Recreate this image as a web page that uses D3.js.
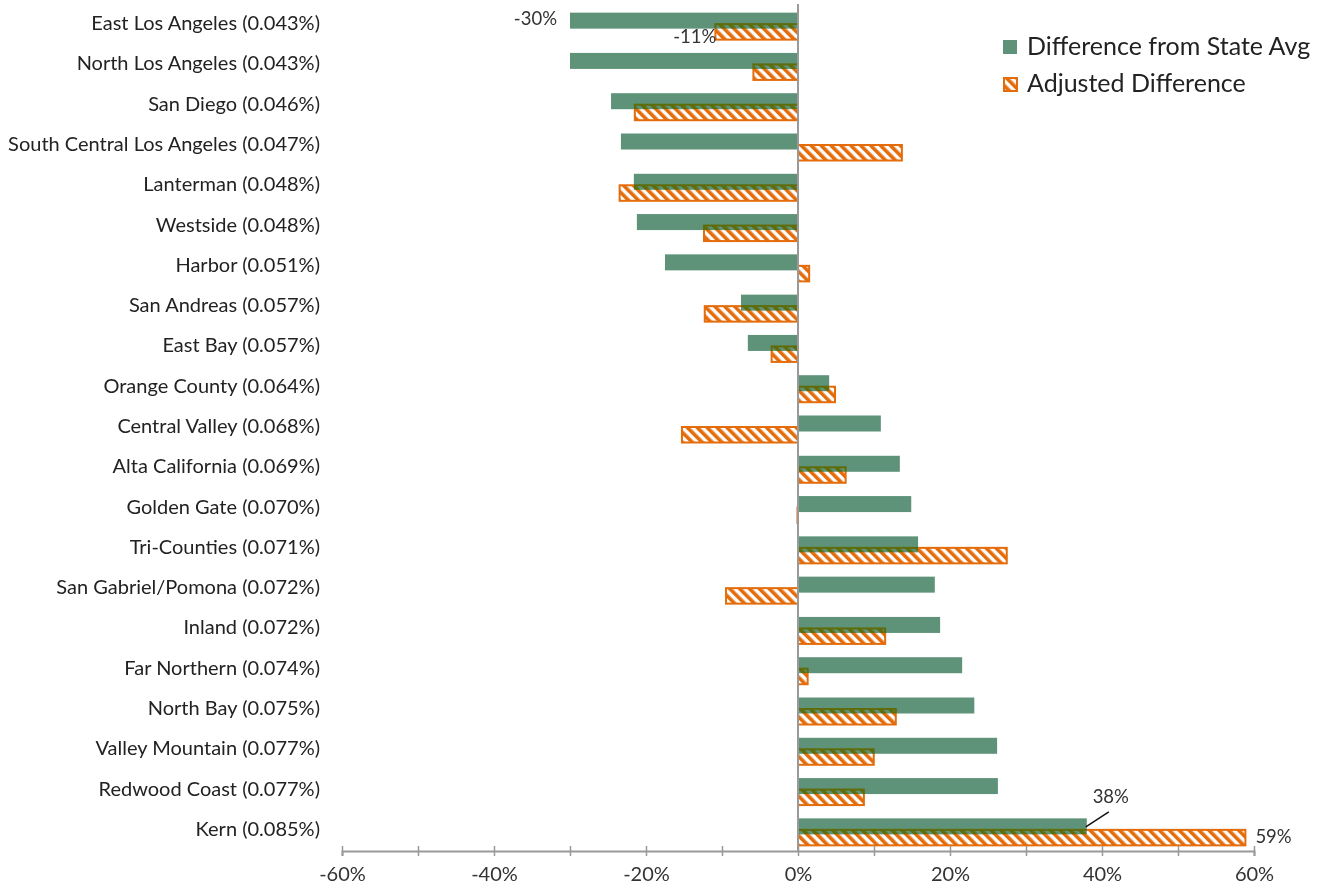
<!DOCTYPE html>
<html>
<head>
<meta charset="utf-8">
<script src="https://cdn.jsdelivr.net/npm/d3@7"></script>
<style>
  html, body { margin: 0; padding: 0; background: #fff; }
  svg { display: block; font-family: Lato, "Open Sans", sans-serif; }
</style>
</head>
<body>
<svg id="chart" width="1330" height="890"></svg>
<script>
// Regional centers with their rate in parentheses
const categories = [
  "East Los Angeles (0.043%)",
  "North Los Angeles (0.043%)",
  "San Diego (0.046%)",
  "South Central Los Angeles (0.047%)",
  "Lanterman (0.048%)",
  "Westside (0.048%)",
  "Harbor (0.051%)",
  "San Andreas (0.057%)",
  "East Bay (0.057%)",
  "Orange County (0.064%)",
  "Central Valley (0.068%)",
  "Alta California (0.069%)",
  "Golden Gate (0.070%)",
  "Tri-Counties (0.071%)",
  "San Gabriel/Pomona (0.072%)",
  "Inland (0.072%)",
  "Far Northern (0.074%)",
  "North Bay (0.075%)",
  "Valley Mountain (0.077%)",
  "Redwood Coast (0.077%)",
  "Kern (0.085%)"
];

// Percent difference from the state average
const diffFromState = [
  -30, -30, -24.6, -23.3, -21.6, -21.2, -17.5, -7.5, -6.6, 4.1, 10.9,
  13.4, 14.9, 15.8, 18.0, 18.7, 21.6, 23.2, 26.2, 26.3, 38
];

// Adjusted percent difference
const adjustedDiff = [
  -11, -6.0, -21.6, 13.8, -23.6, -12.5, 1.6, -12.4, -3.6, 5.0, -15.4,
  6.4, -0.2, 27.6, -9.6, 11.6, 1.4, 13.0, 10.1, 8.8, 59
];

const seriesNames = ["Difference from State Avg", "Adjusted Difference"];
const xTicks = [-60, -50, -40, -30, -20, -10, 0, 10, 20, 30, 40, 50, 60];

// Value labels shown on selected bars
const valueLabels = [
  { cat: 0, series: 0, text: "-30%" },
  { cat: 0, series: 1, text: "-11%" },
  { cat: 20, series: 0, text: "38%" },
  { cat: 20, series: 1, text: "59%" }
];

const green = "#5E9379";
const orange = "#E46C0A";

const svg = d3.select("#chart");

const x = d3.scaleLinear().domain([-60, 60]).range([342, 1254]);
const y = d3.scaleBand().domain(categories).range([4, 850]);

// Diagonal hatch for the adjusted series
const defs = svg.append("defs");
defs.append("pattern")
  .attr("id", "hatch")
  .attr("patternUnits", "userSpaceOnUse")
  .attr("width", 7)
  .attr("height", 7)
  .attr("patternTransform", "rotate(-45)")
  .append("rect")
  .attr("x", 0).attr("y", 0)
  .attr("width", 3.6).attr("height", 7)
  .attr("fill", orange);

// Category labels
svg.append("g")
  .selectAll("text")
  .data(categories)
  .join("text")
  .attr("x", 320)
  .attr("y", d => y(d) + y.bandwidth() / 2 + 1)
  .attr("text-anchor", "end")
  .attr("dominant-baseline", "middle")
  .attr("font-size", 20)
  .attr("fill", "#222")
  .text(d => d);

// Green bars
svg.append("g")
  .selectAll("rect")
  .data(diffFromState)
  .join("rect")
  .attr("x", d => x(Math.min(0, d)))
  .attr("width", d => Math.abs(x(d) - x(0)))
  .attr("y", (d, i) => y(categories[i]) + y.bandwidth() / 2 - 11.5)
  .attr("height", 16)
  .attr("fill", green);

// Hatched bars, darkened where they cross the green bars
const adj = svg.append("g").style("mix-blend-mode", "darken");
adj.selectAll("rect")
  .data(adjustedDiff)
  .join("rect")
  .attr("x", d => x(Math.min(0, d)) + (d < 0 ? 1 : 0))
  .attr("width", d => Math.max(0.1, Math.abs(x(d) - x(0)) - 1))
  .attr("y", (d, i) => y(categories[i]) + y.bandwidth() / 2)
  .attr("height", 15.5)
  .attr("fill", "url(#hatch)")
  .attr("stroke", orange)
  .attr("stroke-width", 2);

// Zero line
svg.append("line")
  .attr("x1", x(0)).attr("x2", x(0))
  .attr("y1", 4).attr("y2", 851)
  .attr("stroke", "#999").attr("stroke-width", 2);

// Bottom axis
const axis = d3.axisBottom(x)
  .tickValues(xTicks)
  .tickSize(5)
  .tickFormat(d => (d % 20 === 0 ? `${d}%` : ""));
const axisG = svg.append("g")
  .attr("transform", "translate(0,851)")
  .call(axis);
axisG.select(".domain").attr("stroke", "#999").attr("stroke-width", 2);
axisG.selectAll(".tick line")
  .attr("y1", -5).attr("y2", 5)
  .attr("stroke", "#999").attr("stroke-width", 1.5);
axisG.selectAll(".tick text")
  .attr("y", 30)
  .attr("dy", 0)
  .attr("font-size", 20)
  .attr("font-family", "Lato, sans-serif")
  .attr("fill", "#333");

// Value labels
const lbl = svg.append("g").attr("font-size", 18.5).attr("fill", "#333");
valueLabels.forEach(l => {
  const v = l.series === 0 ? diffFromState[l.cat] : adjustedDiff[l.cat];
  const cy = y(categories[l.cat]) + y.bandwidth() / 2;
  if (l.series === 0 && v < 0) {
    lbl.append("text").attr("x", x(v) - 13).attr("y", cy - 4)
      .attr("text-anchor", "end").attr("dominant-baseline", "middle").text(l.text);
  } else if (l.series === 1 && v < 0) {
    lbl.append("text").attr("x", x(v) + 2).attr("y", cy + 14)
      .attr("text-anchor", "end").attr("dominant-baseline", "middle").text(l.text);
  } else if (l.series === 0) {
    // leader line to the label above
    lbl.append("line")
      .attr("x1", x(v) - 1).attr("y1", cy - 3)
      .attr("x2", x(v) + 22).attr("y2", cy - 18)
      .attr("stroke", "#111").attr("stroke-width", 1.5);
    lbl.append("text").attr("x", x(v) + 24).attr("y", cy - 32)
      .attr("text-anchor", "middle").attr("dominant-baseline", "middle").text(l.text);
  } else {
    lbl.append("text").attr("x", x(v) + 9).attr("y", cy + 8)
      .attr("text-anchor", "start").attr("dominant-baseline", "middle").text(l.text);
  }
});

// Legend
const legend = svg.append("g").attr("transform", "translate(1003,40)");
seriesNames.forEach((name, i) => {
  const g = legend.append("g").attr("transform", `translate(0,${i * 37})`);
  if (i === 0) {
    g.append("rect").attr("width", 14).attr("height", 14).attr("fill", green);
  } else {
    g.append("rect").attr("x", 1).attr("y", 1).attr("width", 13).attr("height", 13)
      .attr("fill", "url(#hatch)").attr("stroke", orange).attr("stroke-width", 2);
  }
  g.append("text")
    .attr("x", 24).attr("y", 9)
    .attr("dominant-baseline", "middle")
    .attr("font-size", 25)
    .attr("fill", "#222")
    .text(name);
});
</script>
</body>
</html>
